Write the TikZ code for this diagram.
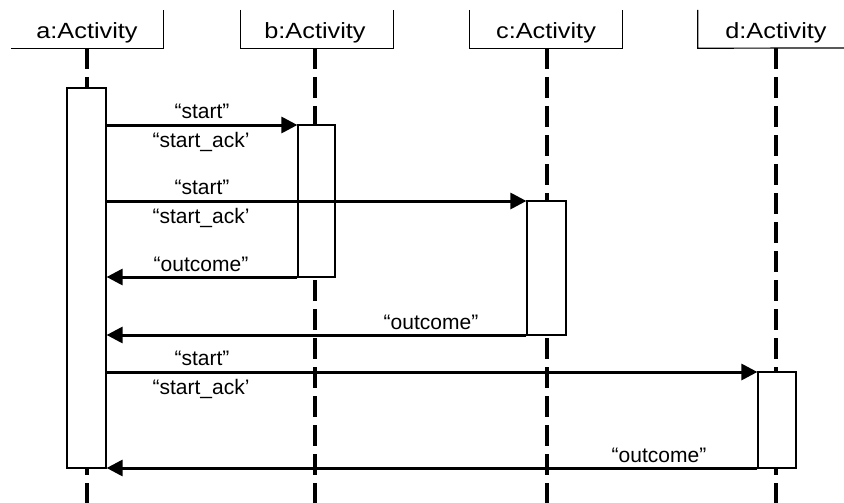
\documentclass[tikz,border=0pt]{standalone}
\usepackage{fontspec}
\setmainfont{Liberation Sans}
\usetikzlibrary{arrows.meta}
\begin{document}
\begin{tikzpicture}[x=1pt,y=-1pt,
  hdr/.style={minimum width=152pt, minimum height=38pt, inner sep=0pt, font=\fontsize{22}{26}\selectfont},
  hdrline/.style={line width=1.2pt},
  lifeline/.style={line width=4.5pt, dash pattern=on 21pt off 8pt},
  actbox/.style={draw, line width=1.2pt, fill=white, inner sep=0pt},
  msg/.style={line width=3pt, -{Triangle[length=16pt,width=16pt]}},
  lbl/.style={font=\fontsize{21}{24}\selectfont, inner sep=0pt, anchor=base}
]
\useasboundingbox (0,0) rectangle (844,503);
% headers
\node[hdr] (ha) at (87,29) {};
\node[hdr] (hb) at (317,29) {};
\node[hdr] (hc) at (546,29) {};
\node[hdr] (hd) at (774,29) {};
\node[lbl, font=\fontsize{22}{26}\selectfont, xscale=1.15] (ta) at (87,39) {a:Activity};
\node[lbl, font=\fontsize{22}{26}\selectfont, xscale=1.15] (tb) at (315,39) {b:Activity};
\node[lbl, font=\fontsize{22}{26}\selectfont, xscale=1.15] (tc) at (546,39) {c:Activity};
\node[lbl, font=\fontsize{22}{26}\selectfont, xscale=1.15] (td) at (776,39) {d:Activity};
\draw[hdrline] (ha.south west) -- (ha.south east) -- (ha.north east);
\draw[hdrline] (hb.north west) -- (hb.south west) -- (hb.south east) -- (hb.north east);
\draw[hdrline] (hc.north west) -- (hc.south west) -- (hc.south east) -- (hc.north east);
\draw[hdrline] (hd.north west) -- (hd.south west) -- (844,48);
% lifelines
\coordinate (la) at (87,503);
\coordinate (lb) at (315,503);
\coordinate (lc) at (547,503);
\coordinate (ld) at (776,503);
\draw[lifeline] (87,48) -- (la);
\draw[lifeline] (315,48) -- (lb);
\draw[lifeline] (547,48) -- (lc);
\draw[lifeline] (776,48) -- (ld);
% activation boxes
\node[actbox, minimum width=39pt, minimum height=380pt] (A) at (86.5,278) {};
\node[actbox, minimum width=37pt, minimum height=152pt] (B) at (316.5,201) {};
\node[actbox, minimum width=39pt, minimum height=134pt] (C) at (546.5,268) {};
\node[actbox, minimum width=38pt, minimum height=96pt] (D) at (777,420) {};
% message rows
\coordinate (m1) at (0,125);
\coordinate (m2) at (0,201);
\coordinate (m3) at (0,277);
\coordinate (m4) at (0,335);
\coordinate (m5) at (0,372);
\coordinate (m6) at (0,468);
% messages
\draw[msg] (A.east |- m1) -- (B.west |- m1);
\draw[msg] (A.east |- m2) -- (C.west |- m2);
\draw[msg] (B.west |- m3) -- (A.east |- m3);
\draw[msg] (C.west |- m4) -- (A.east |- m4);
\draw[msg] (A.east |- m5) -- (D.west |- m5);
\draw[msg] (D.west |- m6) -- (A.east |- m6);
% labels
\node[lbl] (l1a) at (202,118) {“start”};
\node[lbl] (l1b) at (201,147) {“start\_ack’};
\node[lbl] (l2a) at (202,194) {“start”};
\node[lbl] (l2b) at (201,223) {“start\_ack’};
\node[lbl] (l3) at (201,271) {“outcome”};
\node[lbl] (l4) at (431,329) {“outcome”};
\node[lbl] (l5a) at (202,365) {“start”};
\node[lbl] (l5b) at (201,394) {“start\_ack’};
\node[lbl] (l6) at (659,462) {“outcome”};
\end{tikzpicture}
\end{document}
